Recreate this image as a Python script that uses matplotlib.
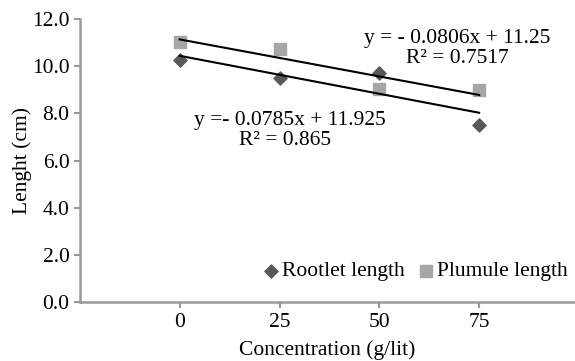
import numpy as np
import matplotlib.pyplot as plt

plt.rcParams['font.family'] = ['Liberation Serif', 'DejaVu Serif']

conc = [0, 25, 50, 75]
rootlet = [10.25, 9.5, 9.7, 7.5]
plumule = [11.05, 10.75, 9.05, 9.0]
eq_plumule = ['y = - 0.0806x + 11.25', 'R² = 0.7517']
eq_rootlet = ['y =- 0.0785x + 11.925', 'R² = 0.865']

fs = 15.5
fig = plt.figure(figsize=(5.75, 3.61), dpi=100)
ax = fig.add_axes([0.139, 0.163, 0.861, 0.784])

ax.scatter(conc, rootlet, marker='D', s=45, color='#595959', label='Rootlet length', zorder=3)
ax.scatter(conc, plumule, marker='s', s=70, color='#a6a6a6', label='Plumule length', zorder=3)

# linear trendlines
xs = np.array([conc[0], conc[-1]])
for ys in (rootlet, plumule):
    k, b = np.polyfit(conc, ys, 1)
    ax.plot(xs, k * xs + b, color='black', lw=1.5, zorder=4)

ax.text(69.5, 11.2, eq_plumule[0], ha='center', va='center', fontsize=fs)
ax.text(69.5, 10.35, eq_plumule[1], ha='center', va='center', fontsize=fs)
ax.text(27.5, 7.72, eq_rootlet[0], ha='center', va='center', fontsize=fs)
ax.text(26.5, 6.87, eq_rootlet[1], ha='center', va='center', fontsize=fs)

ax.set_xlim(-25, 99)
ax.set_ylim(0, 12)
ax.set_xticks(conc)
ax.set_yticks(np.arange(0, 12.1, 2))
ax.set_yticklabels([f'{v:.1f}' for v in np.arange(0, 12.1, 2)])
ax.tick_params(labelsize=fs, color='#999999', length=4, width=1.5)

for s in ['top', 'right']:
    ax.spines[s].set_visible(False)
for s in ['left', 'bottom']:
    ax.spines[s].set_color('#999999')
    ax.spines[s].set_linewidth(1.8)

ax.set_xlabel('Concentration (g/lit)', fontsize=fs, labelpad=6)
ax.set_ylabel('Lenght (cm)', fontsize=fs, labelpad=0)

ax.legend(loc='lower right', bbox_to_anchor=(1.015, 0.02), ncol=2, frameon=False, fontsize=fs,
          handletextpad=0.0, columnspacing=0.5, handlelength=1.0, borderpad=0.2)

fig.savefig('out.png', dpi=100)
